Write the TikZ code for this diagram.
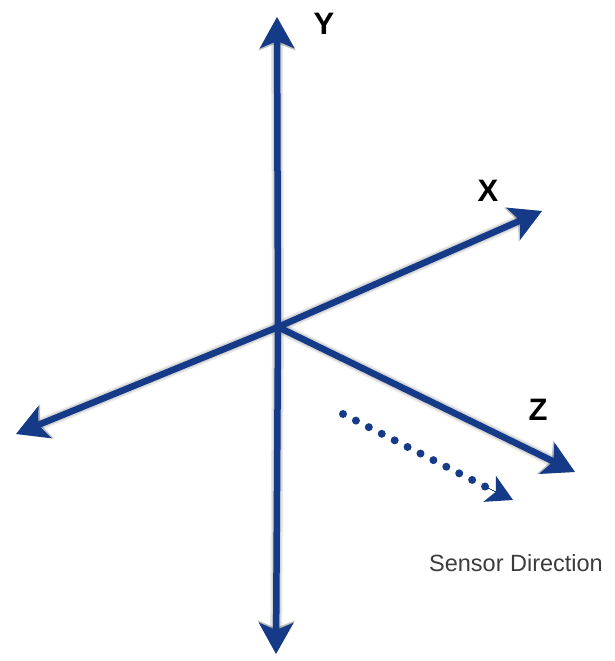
\documentclass[tikz,border=0pt]{standalone}
\usepackage{fontspec}
\setmainfont{Liberation Sans}
\usetikzlibrary{arrows.meta}
\definecolor{axisblue}{RGB}{20,58,136}
\definecolor{labelgray}{RGB}{60,60,60}
\begin{document}
\begin{tikzpicture}[x=1pt,y=-1pt,
  axis/.style={draw=axisblue,line width=6.5pt,-{Stealth[length=31pt,width=34pt,inset=7pt]},color=axisblue},
  shadowax/.style={draw=black,opacity=0.09,line width=#1,-{Stealth[length=33pt,width=36pt,inset=7pt]}},
  dotax/.style={draw=axisblue,line width=8pt,line cap=round,dash pattern=on 0pt off 14.5pt,color=axisblue},
  dothead/.style={draw=axisblue,fill=axisblue,line width=0pt,-{Stealth[length=26pt,width=29pt,inset=7pt]}},
  axlabel/.style={font=\bfseries\fontsize{31}{31}\selectfont,text=black,inner sep=0pt},
  senslabel/.style={font=\fontsize{23.5}{23.5}\selectfont,text=labelgray,inner sep=0pt}]
\useasboundingbox (0,0) rectangle (614,661);
\coordinate (O) at (278,327);
\coordinate (Yt) at (277,17);
\coordinate (Yb) at (276,654);
\coordinate (Xp) at (542,211);
\coordinate (Xm) at (16,434);
\coordinate (Zp) at (575,472);
\coordinate (Ds) at (343,414);
\coordinate (De) at (488,488);
\coordinate (Dt) at (513,500);
% shadows
\foreach \w/\s in {12pt/7, 9pt/6, 6pt/5}{
\begin{scope}[shift={(\s,\s)}]
\draw[shadowax=\w] (O) -- (Yt);
\draw[shadowax=\w] (O) -- (Yb);
\draw[shadowax=\w] (O) -- (Xp);
\draw[shadowax=\w] (O) -- (Xm);
\draw[shadowax=\w] (O) -- (Zp);
\end{scope}
}
% axes
\draw[axis] (O) -- (Yt);
\draw[axis] (O) -- (Yb);
\draw[axis] (O) -- (Xp);
\draw[axis] (O) -- (Xm);
\draw[axis] (O) -- (Zp);
% sensor direction
\draw[dotax] (Ds) -- (De);
\draw[dothead] (De) -- (Dt);
% labels
\node[axlabel] (ly) at (324,24) {Y};
\node[axlabel] (lx) at (488,191) {X};
\node[axlabel] (lz) at (538,410) {Z};
\node[senslabel] (ls) at (516,563) {Sensor Direction};
\end{tikzpicture}
\end{document}
